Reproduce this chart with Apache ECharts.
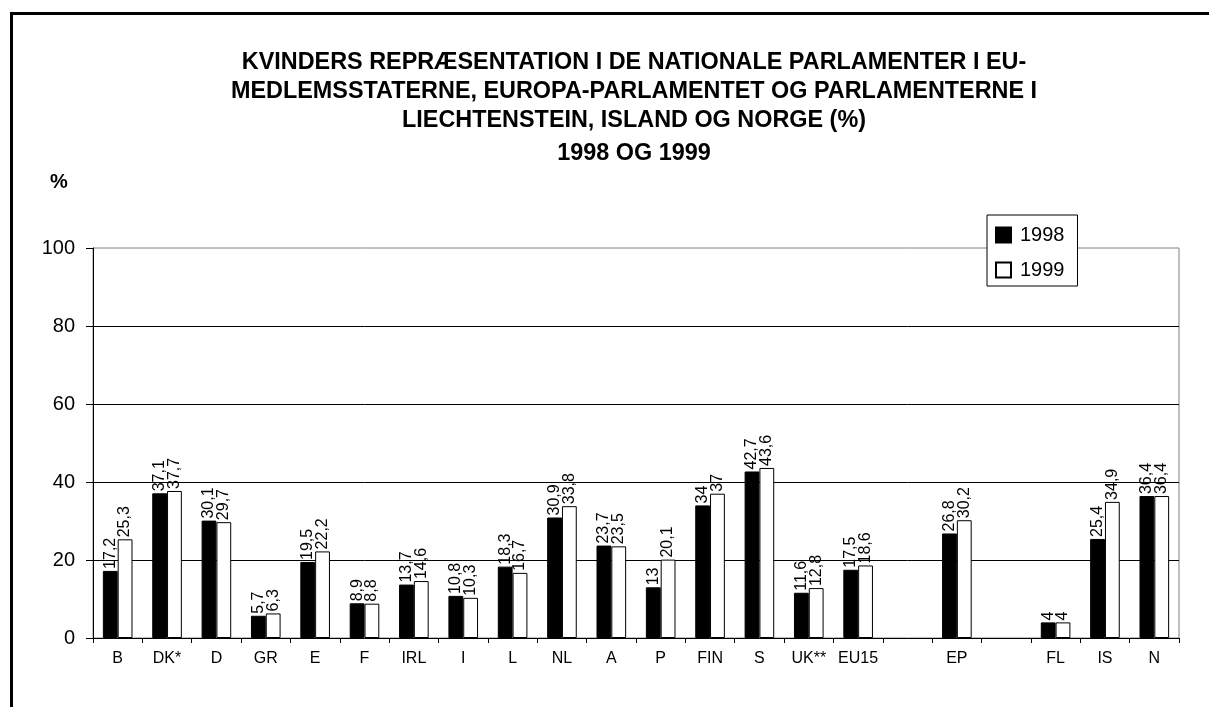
<!DOCTYPE html>
<html>
<head>
<meta charset="utf-8">
<script src="https://cdn.jsdelivr.net/npm/echarts@6/dist/echarts.min.js"></script>
<style>
  html, body { margin: 0; padding: 0; background: #fff; }
  #chart { width: 1209px; height: 707px; }
</style>
</head>
<body>
<div id="chart"></div>
<script>
// chart data
const categories = ['B', 'DK*', 'D', 'GR', 'E', 'F', 'IRL', 'I', 'L', 'NL', 'A', 'P', 'FIN', 'S', 'UK**', 'EU15', ' ', 'EP', '  ', 'FL', 'IS', 'N'];
const values1998 = [17.2, 37.1, 30.1, 5.7, 19.5, 8.9, 13.7, 10.8, 18.3, 30.9, 23.7, 13, 34, 42.7, 11.6, 17.5, null, 26.8, null, 4, 25.4, 36.4];
const values1999 = [25.3, 37.7, 29.7, 6.3, 22.2, 8.8, 14.6, 10.3, 16.7, 33.8, 23.5, 20.1, 37, 43.6, 12.8, 18.6, null, 30.2, null, 4, 34.9, 36.4];
const seriesNames = ['1998', '1999'];
const yTicks = [0, 20, 40, 60, 80, 100];

const font = "'Liberation Sans', Arial, sans-serif";

let chart = echarts.init(document.getElementById('chart'));

// data label with comma decimals
const barLabel = {
    show: true,
    position: 'top',
    rotate: 90,
    align: 'left',
    verticalAlign: 'middle',
    distance: 2,
    fontSize: 16,
    fontFamily: font,
    color: '#000',
    formatter: function (p) {
        return String(p.value).replace('.', ',');
    }
};

const titleStyle = { fontSize: 23.4, fontWeight: 'bold', lineHeight: 29, color: '#000', fontFamily: font };

const option = {
    backgroundColor: '#fff',
    animation: false,
    title: [
        {
            text: 'KVINDERS REPRÆSENTATION I DE NATIONALE PARLAMENTER I EU-\nMEDLEMSSTATERNE, EUROPA-PARLAMENTET OG PARLAMENTERNE I\nLIECHTENSTEIN, ISLAND OG NORGE (%)',
            left: 634,
            top: 48,
            padding: 0,
            textAlign: 'center',
            textStyle: titleStyle
        },
        {
            text: '1998 OG 1999',
            left: 634,
            top: 139,
            padding: 0,
            textAlign: 'center',
            textStyle: titleStyle
        },
        {
            text: '%',
            left: 50,
            top: 172,
            padding: 0,
            textStyle: { fontSize: 20, fontWeight: 'bold', lineHeight: 20, color: '#000', fontFamily: font }
        }
    ],
    legend: {
        orient: 'vertical',
        left: 987,
        top: 215,
        padding: [10, 13, 6, 8],
        itemWidth: 15,
        itemHeight: 15,
        itemGap: 15,
        icon: 'rect',
        backgroundColor: '#fff',
        borderColor: '#000',
        borderWidth: 1,
        textStyle: { fontSize: 20, color: '#000', fontFamily: font, padding: [0, 0, 0, 4] },
        data: seriesNames
    },
    grid: {
        left: 93,
        right: 30,
        top: 248,
        bottom: 69,
        show: true,
        borderColor: '#808080',
        borderWidth: 1,
        containLabel: false
    },
    xAxis: {
        type: 'category',
        data: categories,
        axisLine: { lineStyle: { color: '#000', width: 1 } },
        axisTick: { show: true, interval: 0, length: 5, lineStyle: { color: '#000' } },
        axisLabel: { interval: 0, margin: 13, fontSize: 16, color: '#000', fontFamily: font },
        splitLine: { show: false }
    },
    yAxis: {
        type: 'value',
        min: yTicks[0],
        max: yTicks[yTicks.length - 1],
        interval: 20,
        axisLine: { show: true, lineStyle: { color: '#000', width: 1 } },
        axisTick: { show: true, length: 7, lineStyle: { color: '#000' } },
        axisLabel: { margin: 18, fontSize: 20, color: '#000', fontFamily: font },
        splitLine: { show: true, showMinLine: false, showMaxLine: false, lineStyle: { color: '#000', width: 1 } }
    },
    series: [
        {
            name: seriesNames[0],
            type: 'bar',
            data: values1998,
            barGap: 0,
            barCategoryGap: '40%',
            itemStyle: { color: '#000', borderColor: '#000', borderWidth: 1 },
            label: barLabel
        },
        {
            name: seriesNames[1],
            type: 'bar',
            data: values1999,
            barGap: 0,
            barCategoryGap: '40%',
            itemStyle: { color: '#fff', borderColor: '#000', borderWidth: 1 },
            label: barLabel
        }
    ],
    graphic: [
        {
            type: 'rect',
            shape: { x: 11.5, y: 13.5, width: 1400, height: 900 },
            style: { fill: 'none', stroke: '#000', lineWidth: 3 },
            silent: true
        }
    ]
};

chart.setOption(option);
</script>
</body>
</html>
